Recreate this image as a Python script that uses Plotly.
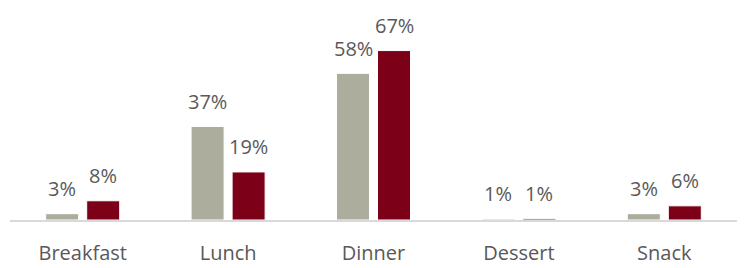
import plotly.graph_objects as go

categories = ["Breakfast", "Lunch", "Dinner", "Dessert", "Snack"]
series_a = [2.5, 37, 58, 0.4, 2.5]
series_b = [7.6, 19, 67, 0.5, 5.6]
labels_a = ["3%", "37%", "58%", "1%", "3%"]
labels_b = ["8%", "19%", "67%", "1%", "6%"]

fig = go.Figure()
for vals, col in [(series_a, "#adad9d"), (series_b, "#7c0017")]:
    fig.add_trace(go.Bar(x=categories, y=vals,
                         marker=dict(color=col, line=dict(color="white", width=1)),
                         hoverinfo="skip", cliponaxis=False))

for vals, labs, dx in [(series_a, labels_a, -20.5), (series_b, labels_b, 20.5)]:
    for c, v, t in zip(categories, vals, labs):
        fig.add_annotation(x=c, y=v, text=t, showarrow=False, xref="x", yref="y",
                           xshift=dx, yshift=25, yanchor="middle",
                           font=dict(color="#595959", size=20, family="Open Sans"))

fig.update_layout(
    width=744, height=268, barmode="group", bargap=0.436, bargroupgap=0.195,
    showlegend=False, plot_bgcolor="white", paper_bgcolor="white",
    margin=dict(l=10, r=7, t=0, b=48, autoexpand=False),
    font=dict(family="Open Sans", color="#595959", size=18),
)
fig.update_xaxes(showline=True, linecolor="#d9d9d9", linewidth=1.5, ticks="outside",
                 ticklen=14, tickcolor="white", automargin=False,
                 tickfont=dict(size=20, color="#595959"))
fig.update_yaxes(range=[0, 87], visible=False, showgrid=False, automargin=False)
fig.write_html("out.html", config={"displayModeBar": False},
               post_script="document.body.style.margin='0';document.body.style.overflow='hidden';")
